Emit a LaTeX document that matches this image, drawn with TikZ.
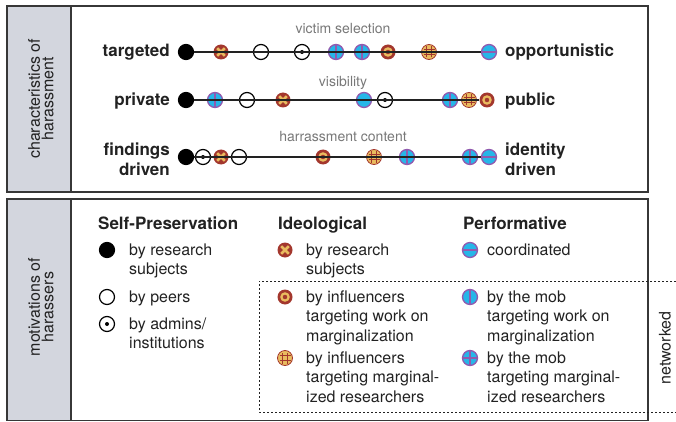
\documentclass[tikz,border=0pt]{standalone}
\usepackage{fontspec}
\setmainfont{TeX Gyre Heros}
\usetikzlibrary{positioning}
\definecolor{ink}{RGB}{34,34,34}
\definecolor{frame}{RGB}{55,55,55}
\definecolor{strip}{RGB}{211,214,222}
\definecolor{caption}{RGB}{120,120,120}
\definecolor{ochre}{RGB}{233,187,95}
\definecolor{brick}{RGB}{163,55,45}
\definecolor{sky}{RGB}{38,182,232}
\definecolor{plum}{RGB}{145,90,175}

\begin{document}
\begin{tikzpicture}[x=1pt, y=-1pt,
  every node/.style={inner sep=0pt},
  panel/.style={draw=frame, line width=1.8pt},
  tab/.style={panel, fill=strip},
  sidelabel/.style={rotate=90, align=center, text=ink, font=\fontsize{16}{13.5}\selectfont},
  polelabel/.style={font=\bfseries\fontsize{17}{20}\selectfont, text=ink},
  axislabel/.style={font=\fontsize{14}{16}\selectfont, text=caption, anchor=base},
  colhead/.style={font=\bfseries\fontsize{17}{20}\selectfont, text=ink, anchor=base west},
  legentry/.style={font=\fontsize{16}{19.5}\selectfont, text=ink, align=left, anchor=north west},
  rail/.style={draw=ink, line width=1.2pt},
  netbox/.style={draw=ink, line width=0.9pt, dash pattern=on 2pt off 2pt},
  % markers
  mbase/.style={circle, minimum size=15pt, inner sep=0pt, line width=1.2pt},
  msubj/.style={mbase, fill=black, draw=black},
  mpeer/.style={mbase, fill=white, draw=black},
  madmin/.style={mpeer, path picture={\fill[black] (path picture bounding box.center) circle (2pt);}},
  mxsubj/.style={mbase, fill=brick, path picture={
    \draw[ochre, line width=2.6pt]
      ([shift={(-3.8pt,-3.8pt)}]path picture bounding box.center) -- ([shift={(3.8pt,3.8pt)}]path picture bounding box.center)
      ([shift={(-3.8pt,3.8pt)}]path picture bounding box.center) -- ([shift={(3.8pt,-3.8pt)}]path picture bounding box.center);}},
  minfwork/.style={mbase, fill=brick, path picture={
    \draw[ochre, line width=2.2pt] (path picture bounding box.center) circle (3.6pt);}},
  minfmarg/.style={mbase, fill=ochre, draw=brick, line width=0.8pt, path picture={
    \draw[brick, line width=1.2pt]
      ([shift={(-2.2pt,-5.5pt)}]path picture bounding box.center) -- ++(0pt,11pt)
      ([shift={(2.2pt,-5.5pt)}]path picture bounding box.center) -- ++(0pt,11pt)
      ([shift={(-5.5pt,-2.2pt)}]path picture bounding box.center) -- ++(11pt,0pt)
      ([shift={(-5.5pt,2.2pt)}]path picture bounding box.center) -- ++(11pt,0pt);}},
  mmob/.style={mbase, fill=sky, draw=plum, line width=1.3pt},
  mmobcoord/.style={mmob, path picture={
    \draw[plum, line width=1.6pt] ([xshift=-8pt]path picture bounding box.center) -- ([xshift=8pt]path picture bounding box.center);}},
  mmobwork/.style={mmob, path picture={
    \draw[plum, line width=1.6pt] ([yshift=-8pt]path picture bounding box.center) -- ([yshift=8pt]path picture bounding box.center);}},
  mmobmarg/.style={mmob, path picture={
    \draw[plum, line width=1.6pt] ([xshift=-8pt]path picture bounding box.center) -- ([xshift=8pt]path picture bounding box.center)
      ([yshift=-8pt]path picture bounding box.center) -- ([yshift=8pt]path picture bounding box.center);}}
]
\useasboundingbox (0,0) rectangle (676,422);

%% frames
\draw[panel] (7,6) rectangle (648,192);
\draw[tab] (7,6) rectangle (71,192);
\draw[panel] (7,199) rectangle (648,420.5);
\draw[tab] (7,199) rectangle (71,420.5);
\node[sidelabel] (chartab) at (41,99) {characteristics of\\harassment};
\node[sidelabel] (motitab) at (41,307) {motivations of\\harassers};

%% victim selection
\node[axislabel] (vsaxis) at (343,34) {victim selection};
\node[polelabel, anchor=base east] (vsleft) at (170,57) {targeted};
\node[polelabel, anchor=base west] (vsright) at (505,57) {opportunistic};
\foreach \kind/\xx [count=\i] in {msubj/186, mxsubj/221, mpeer/261, madmin/302, mmobwork/336,
    mmobmarg/362, minfwork/388, minfmarg/429, mmobcoord/489}
  \node[\kind] (vs\i) at (\xx,52) {};
\draw[rail] (vs1) \foreach \i in {2,...,9} {-- (vs\i)};

%% visibility
\node[axislabel] (viaxis) at (343,87) {visibility};
\node[polelabel, anchor=base east] (vileft) at (170,106) {private};
\node[polelabel, anchor=base west] (viright) at (505,106) {public};
\foreach \kind/\xx [count=\i] in {msubj/186, mmobmarg/215, mpeer/247, mxsubj/283, mmobcoord/364,
    madmin/385, mmobwork/450, minfmarg/469, minfwork/487}
  \node[\kind] (vi\i) at (\xx,100) {};
\draw[rail] (vi1) \foreach \i in {2,...,9} {-- (vi\i)};

%% harrassment content
\node[axislabel] (hcaxis) at (343,142) {harrassment content};
\node[polelabel, anchor=north east, align=right] (hcleft) at (170,143) {findings\\driven};
\node[polelabel, anchor=north west, align=left] (hcright) at (505,143) {identity\\driven};
\foreach \kind/\xx [count=\i] in {msubj/186, madmin/203, mxsubj/221, mpeer/239, minfwork/323,
    minfmarg/374, mmobwork/407, mmobmarg/470, mmobcoord/489}
  \node[\kind] (hc\i) at (\xx,157) {};
\draw[rail] (hc1) \foreach \i in {2,...,9} {-- (hc\i)};

%% legend
\draw[netbox] (676,281) -- (259,281) -- (259,412) -- (676,412);
\node[sidelabel, font=\fontsize{16}{18}\selectfont] (net) at (665,348) {networked};

\node[colhead] (hself) at (98,229) {Self-Preservation};
\node[colhead] (hideo) at (278,229) {Ideological};
\node[colhead] (hperf) at (463,229) {Performative};

\node[msubj] (ls1) at (107,250) {};
\node[legentry] (ls1t) at (129,243.5) {by research\\subjects};
\node[mpeer] (ls2) at (107,297) {};
\node[legentry] (ls2t) at (129,290.5) {by peers};
\node[madmin] (ls3) at (107,324) {};
\node[legentry] (ls3t) at (129,317.5) {by admins/\\institutions};

\node[mxsubj] (li1) at (285,250) {};
\node[legentry] (li1t) at (306,243.5) {by research\\subjects};
\node[minfwork] (li2) at (285,297) {};
\node[legentry] (li2t) at (306,290.5) {by influencers\\targeting work on\\marginalization};
\node[minfmarg] (li3) at (285,358) {};
\node[legentry] (li3t) at (306,351.5) {by influencers\\targeting marginal-\\ized researchers};

\node[mmobcoord] (lp1) at (470,250) {};
\node[legentry] (lp1t) at (487,243.5) {coordinated};
\node[mmobwork] (lp2) at (470,297) {};
\node[legentry] (lp2t) at (487,290.5) {by the mob\\targeting work on\\marginalization};
\node[mmobmarg] (lp3) at (470,358) {};
\node[legentry] (lp3t) at (487,351.5) {by the mob\\targeting marginal-\\ized researchers};
\end{tikzpicture}
\end{document}
